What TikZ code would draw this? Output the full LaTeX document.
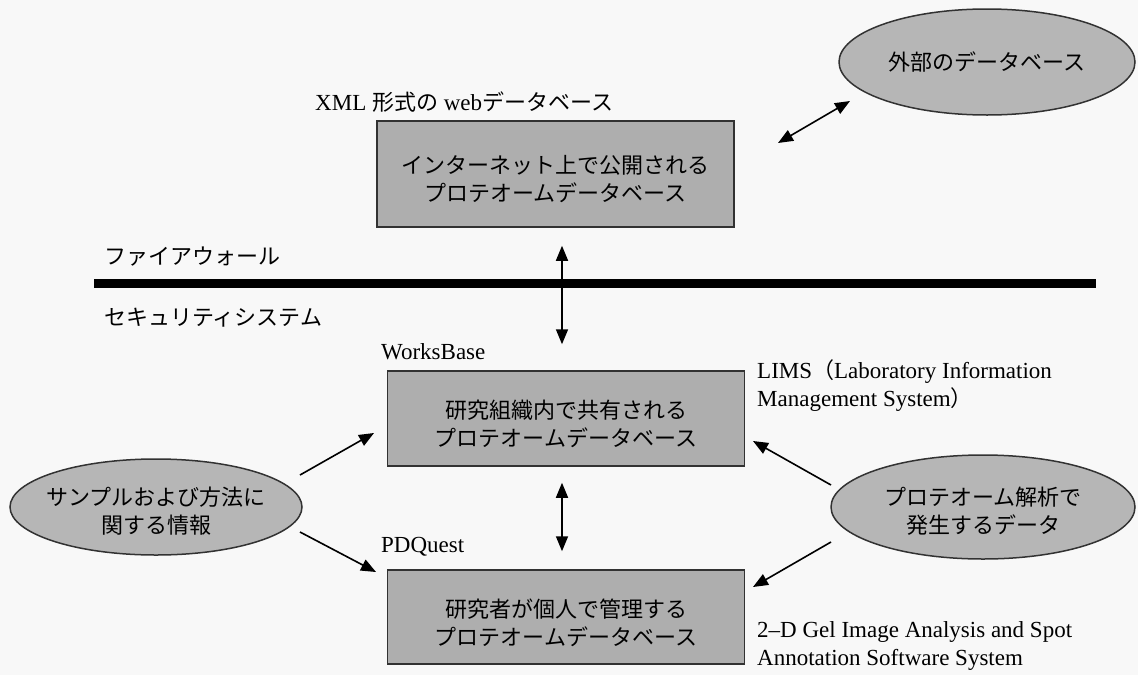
\documentclass[tikz,border=0pt]{standalone}
\usepackage{fontspec}
\setmainfont{Liberation Serif}
\newfontfamily\jp{Noto Sans CJK JP}
\usetikzlibrary{arrows.meta,shapes.geometric,calc}
\definecolor{boxfill}{RGB}{174,174,174}
\definecolor{ellfill}{RGB}{182,182,182}
\definecolor{edgec}{RGB}{50,50,50}
\definecolor{paper}{RGB}{248,248,248}
\newcommand{\jtxt}[1]{{\jp\fontsize{22}{28}\selectfont #1}}
\newcommand{\dnstrut}[1]{\rule{0pt}{#1}}
\begin{document}
\begin{tikzpicture}[x=1pt,y=-1pt,
  every node/.style={inner sep=0pt},
  jpf/.style={font=\jp\fontsize{22}{28}\selectfont},
  lat/.style={font=\fontsize{23}{28}\selectfont},
  dbbox/.style={jpf, draw=edgec, line width=1.5pt, fill=boxfill, minimum width=357pt, align=center},
  ell/.style={jpf, ellipse, draw=edgec, line width=1.5pt, fill=ellfill, inner xsep=-20pt, align=center},
  arr/.style={line width=1.6pt, -{Triangle[length=15pt,width=12pt]}},
  darr/.style={line width=1.6pt, {Triangle[length=15pt,width=12pt]}-{Triangle[length=15pt,width=12pt]}},
  lbl/.style={lat, anchor=west, align=left}
]
\fill[paper] (0,0) rectangle (1138,675);
\useasboundingbox (0,0) rectangle (1138,675);

% boxes
\node[dbbox, minimum height=106pt] (top) at (555.5,174) {\dnstrut{29pt}インターネット上で公開される\\プロテオームデータベース};
\node[dbbox, minimum height=95pt] (mid) at (566,418.5) {\dnstrut{29pt}研究組織内で共有される\\プロテオームデータベース};
\node[dbbox, minimum height=94pt] (bot) at (566,617) {\dnstrut{31pt}研究者が個人で管理する\\プロテオームデータベース};

% ellipses
\node[ell, minimum width=296pt, minimum height=106pt] (ext) at (987,62) {外部のデータベース};
\node[ell, minimum width=292pt, minimum height=96pt] (samp) at (156,507) {\dnstrut{26pt}サンプルおよび方法に\\関する情報};
\node[ell, minimum width=304pt, minimum height=104pt] (prot) at (983,507) {\dnstrut{26pt}プロテオーム解析で\\発生するデータ};

% labels
\node[lbl] (xml) at (315,102) {XML \jtxt{形式の} web\jtxt{データベース}};
\node[jpf, anchor=west] (fw) at (104,257) {ファイアウォール};
\node[jpf, anchor=west] (sec) at (104,318) {セキュリティシステム};
\node[lbl] (wb) at (381,352) {WorksBase};
\node[lbl] (pdq) at (381,547) {PDQuest};
\node[lbl] (lims) at (757,386) {LIMS\jtxt{（}Laboratory Information\\Management System\jtxt{）}};
\node[lbl] (gel) at (757,646) {2--D Gel Image Analysis and Spot\\Annotation Software System};

% firewall line
\coordinate (fwl) at (94,283);
\coordinate (fwr) at (1096,283);
\draw[line width=9pt] (fwl) -- (fwr);

% connectors
\coordinate (e1) at (778,143);
\coordinate (e2) at (850,101);
\draw[darr] (e1) -- (e2);

\draw[darr, shorten <=18pt, shorten >=26pt] ([xshift=6.5pt]top.south) -- ([xshift=-4pt]mid.north);
\draw[darr, shorten <=16pt, shorten >=18pt] ([xshift=-4pt]mid.south) -- ([xshift=-4pt]bot.north);

\coordinate (s1) at (300,475);
\coordinate (t1) at (374,433);
\coordinate (s2) at (300,532);
\coordinate (t2) at (376,572);
\draw[arr] (s1) -- (t1);
\draw[arr] (s2) -- (t2);

\coordinate (r1) at (831,485);
\coordinate (u1) at (753,441);
\coordinate (r2) at (831,542);
\coordinate (u2) at (753,587);
\draw[arr] (r1) -- (u1);
\draw[arr] (r2) -- (u2);
\end{tikzpicture}
\end{document}
